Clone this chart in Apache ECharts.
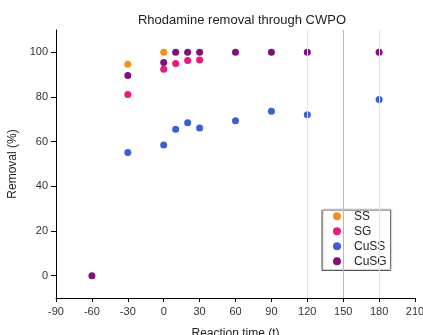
<!DOCTYPE html>
<html>
<head>
<meta charset="utf-8">
<script src="https://cdn.jsdelivr.net/npm/echarts@6/dist/echarts.min.js"></script>
<style>html,body{margin:0;padding:0;background:#fff}#c{width:423px;height:335px}</style>
</head>
<body>
<div id="c"></div>
<script>
const ssTime = [-30, 0];
const ssValues = [94.7, 100];
const sgTime = [-30, 0, 10, 20, 30];
const sgValues = [81.1, 92.4, 95.0, 96.3, 96.6];
const cussTime = [-30, 0, 10, 20, 30, 60, 90, 120, 180];
const cussValues = [55.2, 58.5, 65.6, 68.5, 66.1, 69.4, 73.6, 72.0, 78.9];
const cusgTime = [-60, -30, 0, 10, 20, 30, 60, 90, 120, 180];
const cusgValues = [0, 89.6, 95.4, 100, 100, 100, 100, 100, 100, 100];
const yTicks = [0, 20, 40, 60, 80, 100];
const refLines = [120, 150, 180];

const pairs = (xs, ys) => xs.map((x, i) => [x, ys[i]]);
const font = 'Liberation Sans, Arial, sans-serif';

const chart = echarts.init(document.getElementById('c'), null, {renderer: 'canvas'});
chart.setOption({
  animation: false,
  backgroundColor: '#fff',
  title: {
    text: 'Rhodamine removal through CWPO',
    left: 237, top: 9, textAlign: 'center',
    textStyle: {fontFamily: font, fontSize: 13, fontWeight: 'normal', color: '#222'}
  },
  grid: {left: 56, right: 8, top: 30, bottom: 37, containLabel: false, outerBoundsMode: 'none'},
  legend: {
    orient: 'vertical', left: 323, top: 209,
    padding: [0, 5, 1, 10], itemGap: 0.5,
    itemWidth: 8, itemHeight: 8, icon: 'circle',
    backgroundColor: '#fff',
    borderColor: '#d4d4d4', borderWidth: 1,
    shadowColor: '#555', shadowBlur: 0, shadowOffsetX: -1, shadowOffsetY: 1,
    textStyle: {fontFamily: font, fontSize: 12, lineHeight: 14.5, color: '#222', padding: [0, 0, 0, 8]},
    data: ['SS', 'SG', 'CuSS', 'CuSG']
  },
  xAxis: {
    type: 'value', min: -90, max: 210, interval: 30,
    name: 'Reaction time (t)', nameLocation: 'middle', nameGap: 30,
    nameTextStyle: {fontFamily: font, fontSize: 12, color: '#222'},
    axisLine: {show: true, onZero: false, lineStyle: {color: '#000', width: 1}},
    axisTick: {show: true, length: 4, lineStyle: {color: '#000'}},
    axisLabel: {fontFamily: font, fontSize: 11, color: '#333', margin: 8},
    splitLine: {show: false}
  },
  yAxis: {
    type: 'value', min: -10, max: 110,
    name: 'Removal (%)', nameLocation: 'middle', nameGap: 22,
    nameTextStyle: {fontFamily: font, fontSize: 12, color: '#222'},
    axisLine: {show: true, onZero: false, lineStyle: {color: '#000', width: 1}},
    axisTick: {show: true, length: 5, customValues: yTicks, lineStyle: {color: '#000'}},
    axisLabel: {fontFamily: font, fontSize: 11, color: '#333', margin: 8, customValues: yTicks},
    splitLine: {show: false}
  },
  series: [
    {name: 'SS', type: 'scatter', symbolSize: 7, itemStyle: {color: '#f5901e', opacity: 1}, data: pairs(ssTime, ssValues), z: 3,
     markLine: {silent: true, symbol: 'none', label: {show: false},
       data: refLines.map(v => ({xAxis: v, lineStyle: {color: v === 150 ? '#b8b8b8' : '#e2e2e2', width: 1, type: 'solid'}}))}},
    {name: 'SG', type: 'scatter', symbolSize: 7, itemStyle: {color: '#e8197f', opacity: 1}, data: pairs(sgTime, sgValues), z: 3},
    {name: 'CuSS', type: 'scatter', symbolSize: 7, itemStyle: {color: '#3a5fd2', opacity: 1}, data: pairs(cussTime, cussValues), z: 3},
    {name: 'CuSG', type: 'scatter', symbolSize: 7, itemStyle: {color: '#7b137a', opacity: 1}, data: pairs(cusgTime, cusgValues), z: 3}
  ]
});
</script>
</body>
</html>
